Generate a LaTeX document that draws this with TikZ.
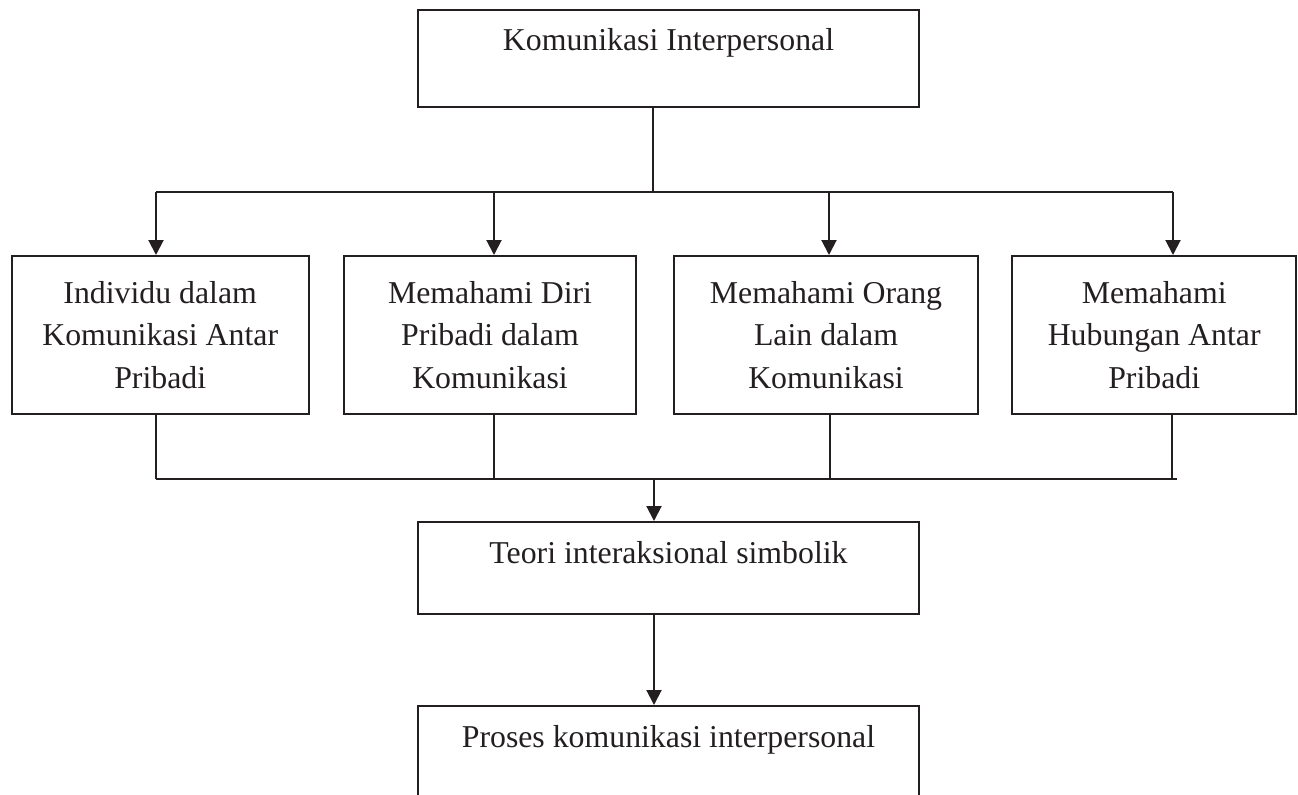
\documentclass[tikz,border=0pt]{standalone}
\usepackage{fontspec}
\setmainfont{Liberation Serif}
\usetikzlibrary{arrows.meta}
\definecolor{ink}{RGB}{35,31,32}
\begin{document}
\begin{tikzpicture}[x=0.5pt,y=-0.5pt,line width=1pt,draw=ink]
  \tikzstyle{every node}=[draw=ink,text=ink,font=\fontsize{15.9}{21.1}\selectfont,inner xsep=0pt,inner ysep=0pt,anchor=north]
  \tikzstyle{arr}=[-{Triangle[length=7.5pt,width=7.5pt]},ink]
  \useasboundingbox (0,0) rectangle (1298,794);
  \node [minimum width=250.5pt,text height=20pt,text depth=28.4pt] (kom) at (668.5,9.3) {Komunikasi Interpersonal};
  \node [minimum width=148.5pt,minimum height=79pt,align=center] (b1) at (160.2,255) {Individu dalam\\Komunikasi Antar\\Pribadi};
  \node [minimum width=146pt,minimum height=79pt,align=center] (b2) at (490,255) {Memahami Diri\\Pribadi dalam\\Komunikasi};
  \node [minimum width=152pt,minimum height=79pt,align=center] (b3) at (826,255) {Memahami Orang\\Lain dalam\\Komunikasi};
  \node [minimum width=142.25pt,minimum height=79pt,align=center] (b4) at (1154.2,255) {Memahami\\Hubungan Antar\\Pribadi};
  \node [minimum width=250.5pt,text height=20.5pt,text depth=25.5pt] (teori) at (668.5,521) {Teori interaksional simbolik};
  \node [minimum width=250.5pt,text height=20.5pt,text depth=40pt] (proses) at (668.5,705) {Proses komunikasi interpersonal};
  % top bus
  \coordinate (kb) at (653,192);
  \draw (kb |- kom.south) -- (kb);
  \foreach \n/\x in {1/156,2/494,3/829,4/1173} {
    \coordinate (t\n) at (\x,192);
    \draw [arr] (t\n) -- (t\n |- b\n.north);
  }
  \draw (t1) -- (t4);
  % bottom bus
  \foreach \n/\x in {1/156,2/494,3/829.5,4/1172} {
    \coordinate (u\n) at (\x,479);
    \draw (u\n |- b\n.south) -- (u\n);
  }
  \coordinate (ue) at (1177,479);
  \draw (u1) -- (ue);
  \coordinate (ub) at (654,479);
  \draw [arr] (ub) -- (ub |- teori.north);
  \draw [arr] (ub |- teori.south) -- (ub |- proses.north);
\end{tikzpicture}
\end{document}
